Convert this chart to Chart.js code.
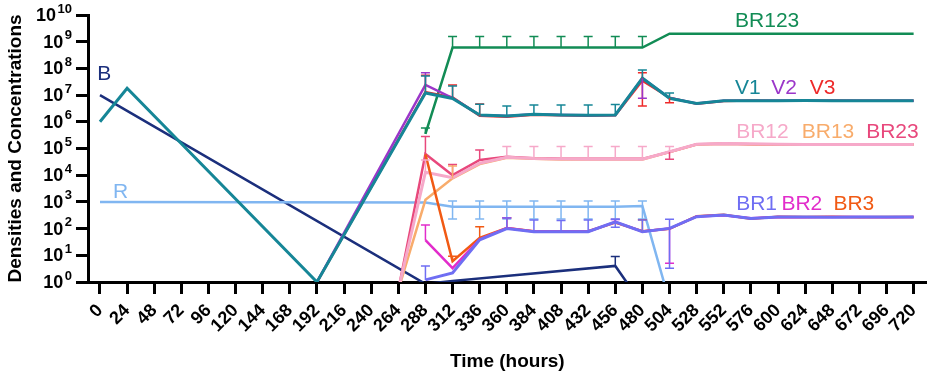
<!DOCTYPE html>
<html>
<head>
<meta charset="utf-8">
<script src="https://cdn.jsdelivr.net/npm/chart.js@4.4.1/dist/chart.umd.min.js"></script>
<style>
  html, body { margin: 0; background: #fff; }
  #wrap { width: 935px; height: 377px; }
</style>
</head>
<body>
<div id="wrap"><canvas id="chart"></canvas></div>
<script>
const n = null;
const FONT = "'Liberation Sans', Arial, sans-serif";

// time points (hours)
const times = [0, 24, 48, 72, 96, 120, 144, 168, 192, 216, 240, 264, 288, 312, 336, 360,
  384, 408, 432, 456, 480, 504, 528, 552, 576, 600, 624, 648, 672, 696, 720];
const yTicks = [1, 1e1, 1e2, 1e3, 1e4, 1e5, 1e6, 1e7, 1e8, 1e9, 1e10];

// series, one value per time point (null = not measured)
const B = [1e7, n, n, n, n, n, n, n, n, n, n, n, 0.85, 1.1, n, n, n, n, n, 4, 0.14,
  n, n, n, n, n, n, n, n, n, n];
const R = [1000, n, n, n, n, n, n, n, n, n, n, n, 950, 660, 660, 660, 660, 660, 660, 660, 700, 0.18,
  n, n, n, n, n, n, n, n, n];
const V1 = [1e6, 1.8e7, n, n, n, n, n, n, 1, n, n, n, 1.2e7, 7.5e6, 1.8e6, 1.65e6, 1.9e6, 1.8e6,
  1.75e6, 1.8e6, 4.3e7, 7.6e6, 4.9e6, 6.2e6, 6.1e6, 6.2e6, 6.3e6, 6.2e6, 6.2e6, 6.2e6, 6.2e6];
const V2 = [n, n, n, n, n, n, n, n, 1, n, n, n, 2.4e7, 7.8e6, 1.8e6, 1.65e6, 1.9e6, 1.8e6,
  1.75e6, 1.8e6, 4.3e7, 7.8e6, 4.9e6, 6.2e6, 6.2e6, 6.2e6, 6.2e6, 6.2e6, 6.2e6, 6.2e6, 6.2e6];
const V3 = [n, n, n, n, n, n, n, n, 1, n, n, n, 1.3e7, 8.2e6, 1.7e6, 1.55e6, 1.85e6, 1.75e6,
  1.7e6, 1.75e6, 3.5e7, 8e6, 4.7e6, 6e6, 6.3e6, 6.2e6, 6.1e6, 6.3e6, 6.2e6, 6.2e6, 6.2e6];
const BR123 = [n, n, n, n, n, n, n, n, n, n, n, n, 3.5e5, 6e8, 6e8, 6e8, 6e8, 6e8, 6e8, 6e8, 6e8,
  2e9, 2e9, 2e9, 2e9, 2e9, 2e9, 2e9, 2e9, 2e9, 2e9];
const BR12 = [n, n, n, n, n, n, n, n, n, n, n, 0.5, 1.3e4, 8e3, 2.8e4, 4.7e4, 4.2e4, 4e4, 4e4, 4e4, 4e4,
  7.6e4, 1.45e5, 1.55e5, 1.5e5, 1.45e5, 1.4e5, 1.4e5, 1.4e5, 1.4e5, 1.4e5];
const BR13 = [n, n, n, n, n, n, n, n, n, n, n, 0.5, 1.2e3, 7.6e3, 2.6e4, 4.5e4, 4.1e4, 3.9e4, 3.9e4, 3.9e4, 3.9e4,
  7.4e4, 1.4e5, 1.5e5, 1.45e5, 1.4e5, 1.38e5, 1.4e5, 1.4e5, 1.4e5, 1.4e5];
const BR23 = [n, n, n, n, n, n, n, n, n, n, n, 0.5, 6.2e4, 1e4, 3.7e4, 4.9e4, 4.3e4, 4.1e4, 4.1e4, 4.1e4, 4.1e4,
  7.4e4, 1.45e5, 1.5e5, 1.45e5, 1.4e5, 1.4e5, 1.4e5, 1.4e5, 1.4e5, 1.4e5];
const BR1 = [n, n, n, n, n, n, n, n, n, n, n, n, 1.2, 2.2, 38, 100, 76, 76, 76, 180, 76,
  102, 280, 320, 240, 270, 270, 265, 270, 270, 270];
const BR2 = [n, n, n, n, n, n, n, n, n, n, n, n, 37, 3.3, 40, 105, 78, 78, 78, 175, 78,
  100, 285, 315, 245, 272, 268, 270, 270, 268, 270];
const BR3 = [n, n, n, n, n, n, n, n, n, n, n, n, 6e4, 6, 45, 105, 80, 78, 80, 170, 80,
  98, 290, 330, 235, 275, 270, 275, 268, 270, 272];

// error bar ends, keyed by time
const B_hi = {456: 9};
const R_hi = {312: 1070, 336: 1070, 360: 1070, 384: 1070, 408: 1070, 432: 1070, 456: 1070, 480: 1070};
const R_lo = {312: 230, 336: 230, 360: 230, 384: 230, 408: 230, 432: 230, 456: 230, 480: 230};
const V1_hi = {288: 5.2e7, 312: 2.2e7, 336: 4.5e6, 360: 3.9e6, 384: 4.3e6, 408: 4.3e6, 432: 4.3e6,
  456: 4.4e6, 480: 8.7e7, 504: 1.2e7};
const V2_hi = {288: 6.9e7};
const V2_lo = {480: 7.6e6};
const V3_hi = {288: 5.5e7, 312: 2.4e7, 336: 4.6e6, 480: 6.9e7};
const V3_lo = {480: 3.9e6, 504: 5.2e6};
const BR123_hi = {288: 5.8e5, 312: 1.55e9, 336: 1.55e9, 360: 1.55e9, 384: 1.55e9, 408: 1.55e9,
  432: 1.55e9, 456: 1.55e9, 480: 1.55e9};
const BR12_hi = {288: 3.7e4, 360: 1.2e5, 384: 1.2e5, 408: 1.2e5, 432: 1.2e5, 456: 1.2e5, 480: 1.2e5, 504: 1.2e5};
const BR13_hi = {312: 2.2e4};
const BR23_hi = {288: 2.8e5, 312: 2.5e4, 336: 8.7e4};
const BR23_lo = {504: 4e4};
const BR1_hi = {288: 4, 360: 250, 384: 210, 408: 200, 432: 210, 456: 224, 480: 210, 504: 225};
const BR1_lo = {456: 112, 504: 3.3};
const BR2_hi = {288: 135, 360: 257, 456: 220};
const BR2_lo = {504: 5};
const BR3_hi = {312: 9.3, 336: 118, 360: 257, 480: 215};

// listed top-most first
const series = [
  {label: 'V1', data: V1, hi: V1_hi, color: '#168697', width: 3},
  {label: 'V2', data: V2, hi: V2_hi, lo: V2_lo, color: '#9b36c9', width: 2.5},
  {label: 'V3', data: V3, hi: V3_hi, lo: V3_lo, color: '#ee2a2a', width: 2.5},
  {label: 'BR123', data: BR123, hi: BR123_hi, color: '#128c55', width: 2.5},
  {label: 'BR1', data: BR1, hi: BR1_hi, lo: BR1_lo, color: '#6f6ef3', width: 3},
  {label: 'BR2', data: BR2, hi: BR2_hi, lo: BR2_lo, color: '#e22ccb', width: 2.5},
  {label: 'BR3', data: BR3, hi: BR3_hi, color: '#f15a14', width: 2.5},
  {label: 'BR12', data: BR12, hi: BR12_hi, color: '#f6a9c9', width: 3},
  {label: 'BR13', data: BR13, hi: BR13_hi, color: '#f8ac6c', width: 2.5},
  {label: 'BR23', data: BR23, hi: BR23_hi, lo: BR23_lo, color: '#e8487c', width: 2.5},
  {label: 'R', data: R, hi: R_hi, lo: R_lo, color: '#80b6f1', width: 2.5},
  {label: 'B', data: B, hi: B_hi, color: '#1b2f7c', width: 2.5}
];

// in-plot labels (data coordinates)
const seriesLabels = [
  {text: 'BR123', t: 562, v: 10 ** 9.75, color: '#128c55'},
  {text: 'V1', t: 562, v: 10 ** 7.25, color: '#168697'},
  {text: 'V2', t: 594, v: 10 ** 7.25, color: '#9b36c9'},
  {text: 'V3', t: 628, v: 10 ** 7.25, color: '#ee2a2a'},
  {text: 'BR12', t: 563, v: 10 ** 5.6, color: '#f6a9c9'},
  {text: 'BR13', t: 621, v: 10 ** 5.6, color: '#f8ac6c'},
  {text: 'BR23', t: 678, v: 10 ** 5.6, color: '#e8487c'},
  {text: 'BR1', t: 563, v: 10 ** 2.92, color: '#6f6ef3'},
  {text: 'BR2', t: 603, v: 10 ** 2.92, color: '#e22ccb'},
  {text: 'BR3', t: 649, v: 10 ** 2.92, color: '#f15a14'},
  {text: 'B', t: -2.5, v: 10 ** 7.79, color: '#1b2f7c'},
  {text: 'R', t: 11.5, v: 10 ** 3.37, color: '#80b6f1'}
];

const errorBars = {
  id: 'errorBars',
  afterDatasetsDraw(chart) {
    const {ctx} = chart;
    const xs = chart.scales.x, ys = chart.scales.y;
    ctx.save();
    chart.data.datasets.slice().reverse().forEach(ds => {
      ctx.strokeStyle = ds.borderColor;
      ctx.lineWidth = 1.5;
      [ds.errHi, ds.errLo].forEach(ends => {
        if (!ends) return;
        Object.keys(ends).forEach(k => {
          const i = times.indexOf(Number(k));
          const val = ds.data[i].y;
          if (val == null) return;
          const px = xs.getPixelForValue(times[i]);
          const p0 = ys.getPixelForValue(val);
          const p1 = ys.getPixelForValue(ends[k]);
          ctx.beginPath();
          ctx.moveTo(px, p0);
          ctx.lineTo(px, p1);
          ctx.moveTo(px - 4.5, p1);
          ctx.lineTo(px + 4.5, p1);
          ctx.stroke();
        });
      });
    });
    ctx.restore();
  }
};

const textLayer = {
  id: 'textLayer',
  afterDraw(chart) {
    const {ctx} = chart;
    const xs = chart.scales.x, ys = chart.scales.y;
    ctx.save();
    // y tick labels as 10 with superscript exponent
    ctx.fillStyle = '#000';
    ctx.textAlign = 'right';
    ctx.textBaseline = 'middle';
    const right = ys.right - 16;
    ys.ticks.forEach(tk => {
      const py = ys.getPixelForValue(tk.value);
      const exp = String(Math.round(Math.log10(tk.value)));
      ctx.font = 'bold 13px ' + FONT;
      const ew = ctx.measureText(exp).width;
      ctx.fillText(exp, right, py - 6);
      ctx.font = 'bold 18px ' + FONT;
      ctx.fillText('10', right - ew - 1.5, py + 1);
    });
    // series names
    ctx.textAlign = 'left';
    ctx.font = '21px ' + FONT;
    seriesLabels.forEach(l => {
      ctx.fillStyle = l.color;
      ctx.fillText(l.text, xs.getPixelForValue(l.t), ys.getPixelForValue(l.v));
    });
    ctx.restore();
  }
};

new Chart(document.getElementById('chart'), {
  type: 'line',
  data: {
    datasets: series.map(s => ({
      label: s.label,
      data: s.data.map((v, i) => ({x: times[i], y: v})),
      borderColor: s.color,
      backgroundColor: s.color,
      borderWidth: s.width,
      pointRadius: 0,
      tension: 0,
      spanGaps: true,
      fill: false,
      errHi: s.hi,
      errLo: s.lo
    }))
  },
  options: {
    responsive: true,
    maintainAspectRatio: false,
    animation: false,
    layout: {padding: {top: 15, right: 7, left: 0, bottom: 0}},
    plugins: {legend: {display: false}, tooltip: {enabled: false}},
    scales: {
      x: {
        type: 'linear',
        min: -10.6,
        max: 731.5,
        afterBuildTicks: scale => { scale.ticks = times.map(v => ({value: v})); },
        afterFit: scale => { scale.height = 95; },
        ticks: {
          autoSkip: false,
          minRotation: 45,
          maxRotation: 45,
          color: '#000',
          padding: 6,
          font: {family: FONT, size: 18, weight: 'bold'},
          callback: v => String(v)
        },
        grid: {drawOnChartArea: false, drawTicks: true, tickLength: 12, tickWidth: 3, tickColor: '#000'},
        border: {display: true, color: '#000', width: 3},
        title: {
          display: true,
          text: 'Time (hours)',
          color: '#000',
          font: {family: FONT, size: 19, weight: 'bold'},
          padding: {top: 4, bottom: 4}
        }
      },
      y: {
        type: 'logarithmic',
        min: 1,
        max: 1e10,
        afterBuildTicks: scale => { scale.ticks = yTicks.map(v => ({value: v})); },
        afterFit: scale => { scale.width = 88; },
        ticks: {display: false},
        grid: {drawOnChartArea: false, drawTicks: true, tickLength: 12, tickWidth: 3, tickColor: '#000'},
        border: {display: true, color: '#000', width: 3},
        title: {
          display: true,
          text: 'Densities and Concentrations',
          color: '#000',
          font: {family: FONT, size: 19, weight: 'bold'},
          padding: {top: 4, bottom: 4}
        }
      }
    }
  },
  plugins: [errorBars, textLayer]
});
</script>
</body>
</html>
